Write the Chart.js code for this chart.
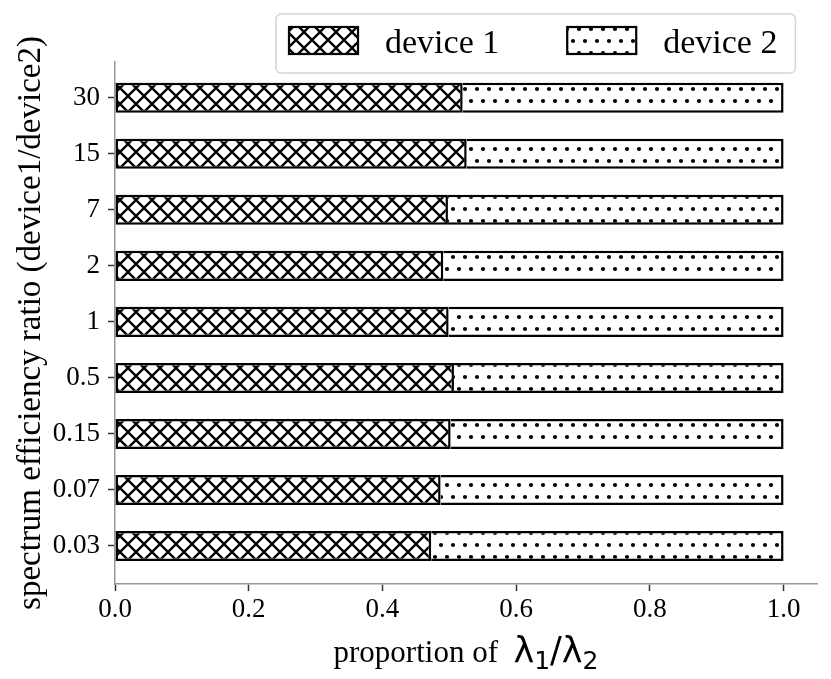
<!DOCTYPE html>
<html>
<head>
<meta charset="utf-8">
<script src="https://cdn.jsdelivr.net/npm/chart.js@4.4.1/dist/chart.umd.min.js"></script>
<style>
  html, body { margin: 0; padding: 0; background: #fff; }
</style>
</head>
<body>
<canvas id="ratioChart" width="831" height="679"></canvas>
<script>
// spectrum efficiency ratio categories, bottom to top
const ratios = ["0.03", "0.07", "0.15", "0.5", "1", "2", "7", "15", "30"];
const device1 = [0.473, 0.487, 0.502, 0.507, 0.499, 0.491, 0.498, 0.526, 0.520];
const device2 = [0.527, 0.513, 0.498, 0.493, 0.501, 0.509, 0.502, 0.474, 0.480];
const seriesNames = ["device 1", "device 2"];
const xTicks = [0, 0.2, 0.4, 0.6, 0.8, 1.0];
const xTickLabels = ["0.0", "0.2", "0.4", "0.6", "0.8", "1.0"];
const yTitle = "spectrum efficiency ratio (device1/device2)";

const SERIF = "'Liberation Serif', 'Times New Roman', serif";
const SANS = "'DejaVu Sans', sans-serif";

// hatch patterns (matplotlib 'xx' and '..' look)
function crossHatch() {
  const c = document.createElement("canvas");
  c.width = 16; c.height = 16;
  const g = c.getContext("2d");
  g.fillStyle = "#fff";
  g.fillRect(0, 0, 16, 16);
  g.strokeStyle = "#000";
  g.lineWidth = 2.3;
  g.beginPath();
  for (const o of [-16, 0, 16]) {
    g.moveTo(o, 0); g.lineTo(o + 16, 16);
    g.moveTo(o, 16); g.lineTo(o + 16, 0);
  }
  g.stroke();
  return g.createPattern(c, "repeat");
}

function dotHatch() {
  const c = document.createElement("canvas");
  c.width = 12; c.height = 24;
  const g = c.getContext("2d");
  g.fillStyle = "#fff";
  g.fillRect(0, 0, 12, 24);
  g.fillStyle = "#000";
  for (const [x, y] of [[3, 5], [9, 17]]) {
    g.beginPath();
    g.arc(x, y, 2.1, 0, Math.PI * 2);
    g.fill();
  }
  return g.createPattern(c, "repeat");
}

const hatchX = crossHatch();
const hatchDots = dotHatch();

const annotate = {
  id: "annotate",
  afterDraw(chart) {
    const g = chart.ctx;
    const a = chart.chartArea;
    g.save();
    g.fillStyle = "#000";

    // y axis title
    g.save();
    g.translate(31, (a.top + a.bottom) / 2);
    g.rotate(-Math.PI / 2);
    g.font = "33px " + SERIF;
    g.textAlign = "center";
    g.textBaseline = "middle";
    g.fillText(yTitle, 0, 0);
    g.restore();

    // x axis title: proportion of λ1/λ2
    const parts = [
      ["proportion of  ", "31px " + SERIF, 0],
      ["λ", "35px " + SANS, 0],
      ["1", "25px " + SANS, 7],
      ["/", "35px " + SANS, 0],
      ["λ", "35px " + SANS, 0],
      ["2", "25px " + SANS, 7]
    ];
    let total = 0;
    parts.forEach(p => { g.font = p[1]; total += g.measureText(p[0]).width; });
    let x = (a.left + a.right) / 2 - total / 2;
    g.textAlign = "left";
    g.textBaseline = "alphabetic";
    parts.forEach(p => {
      g.font = p[1];
      g.fillText(p[0], x, 662 + p[2]);
      x += g.measureText(p[0]).width;
    });

    // legend
    const fills = [hatchX, hatchDots];
    g.font = "34px " + SERIF;
    const L = 276, T = 14, H = 59;
    let cx = L + 13;
    const items = seriesNames.map((name, i) => {
      const it = { name, fill: fills[i], px: cx, tx: cx + 69 + 27 };
      cx = it.tx + g.measureText(name).width + 68;
      return it;
    });
    const last = items[items.length - 1];
    const R = last.tx + g.measureText(last.name).width + 18;
    g.beginPath();
    g.roundRect(L, T, R - L, H, 5);
    g.fillStyle = "rgba(255,255,255,0.9)";
    g.fill();
    g.strokeStyle = "#d4d4d4";
    g.lineWidth = 1.5;
    g.stroke();
    items.forEach(it => {
      g.fillStyle = it.fill;
      g.fillRect(it.px, 27, 69, 27);
      g.strokeStyle = "#000";
      g.lineWidth = 2.2;
      g.strokeRect(it.px, 27, 69, 27);
      g.fillStyle = "#000";
      g.fillText(it.name, it.tx, 53);
    });
    g.restore();
  }
};

const tickFont = { family: SERIF, size: 27 };

new Chart(document.getElementById("ratioChart"), {
  type: "bar",
  data: {
    datasets: [
      {
        label: seriesNames[0],
        data: device1.map((v, i) => ({ x: v, y: i })),
        backgroundColor: hatchX,
        borderColor: "#000",
        borderWidth: 2.5,
        borderSkipped: false
      },
      {
        label: seriesNames[1],
        data: device2.map((v, i) => ({ x: v, y: i })),
        backgroundColor: hatchDots,
        borderColor: "#000",
        borderWidth: 2.5,
        borderSkipped: "left"
      }
    ]
  },
  options: {
    indexAxis: "y",
    responsive: false,
    animation: false,
    layout: { padding: { top: 62, right: 14, left: 0, bottom: 0 } },
    datasets: { bar: { barPercentage: 0.536, categoryPercentage: 1 } },
    plugins: {
      legend: { display: false },
      tooltip: { enabled: false }
    },
    scales: {
      x: {
        type: "linear",
        stacked: true,
        min: 0,
        max: 1.05,
        afterBuildTicks: s => { s.ticks = xTicks.map(v => ({ value: v })); },
        afterFit: s => { s.height = 95; },
        ticks: {
          callback: (v, i) => xTickLabels[i],
          font: tickFont,
          color: "#000",
          padding: 3,
          maxRotation: 0
        },
        grid: { drawOnChartArea: false, tickLength: 7, tickColor: "#333", tickWidth: 1.5 },
        border: { color: "#999", width: 1.5 }
      },
      y: {
        type: "linear",
        stacked: true,
        offset: false,
        min: -0.68,
        max: 8.64,
        afterBuildTicks: s => { s.ticks = ratios.map((r, i) => ({ value: i })); },
        afterFit: s => { s.width = 115; },
        ticks: {
          callback: (v, i) => ratios[i],
          font: tickFont,
          color: "#000",
          padding: 8
        },
        grid: { offset: false, drawOnChartArea: false, tickLength: 7, tickColor: "#333", tickWidth: 1.5 },
        border: { color: "#999", width: 1.5 }
      }
    }
  },
  plugins: [annotate]
});
</script>
</body>
</html>
